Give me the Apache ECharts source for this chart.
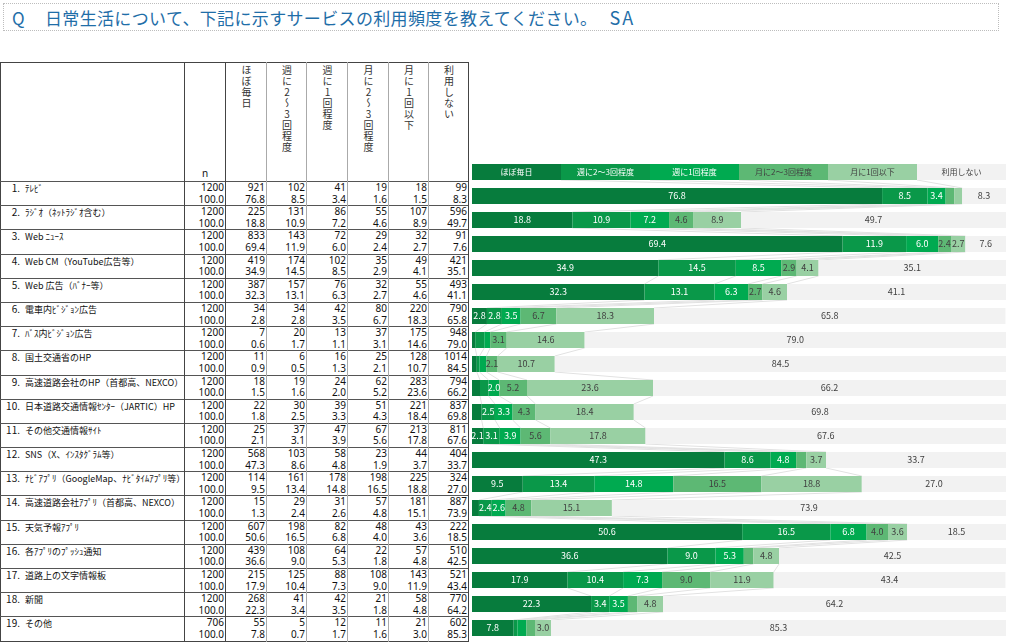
<!DOCTYPE html>
<html lang="ja">
<head>
<meta charset="UTF-8">
<title>サービスの利用頻度</title>
<script src="https://cdn.jsdelivr.net/npm/echarts@6/dist/echarts.min.js"></script>
<style>
    body { margin: 0; background: #fff; width: 1024px; height: 642px; overflow: hidden; position: relative;
           font-family: "Noto Sans", "Noto Sans CJK JP", sans-serif; }
    .title { position: absolute; left: 3px; top: 3px; width: 996px; height: 28px; box-sizing: border-box;
             border: 1px dotted #bdbdbd; color: #1f6ea8; font-family: "Noto Sans CJK JP"; font-size: 17px;
             line-height: 26px; padding-left: 8px; letter-spacing: 0.35px; }
    .title .q { margin-right: 20px; }
    .title .sa { margin-left: 12px; letter-spacing: 2px; font-size: 18px; }
    #tbl { position: absolute; left: 0; top: 62px; width: 469px; border-collapse: collapse; table-layout: fixed;
           border: 1px solid #444; font-size: 10px; color: #111; }
    #tbl td, #tbl th { padding: 0; overflow: hidden; white-space: nowrap; }
    #tbl th { height: 117px; font-weight: normal; vertical-align: top; border-right: 1px solid #aaa; }
    #tbl th .v { writing-mode: vertical-rl; text-orientation: upright; font-family: "Noto Sans CJK JP";
                 font-size: 10px; line-height: 12px; margin: 2px auto 0; letter-spacing: 1px; color: #333; }
    #tbl th.nh { vertical-align: bottom; text-align: center; padding-bottom: 1px; border-right: 1px solid #444; }
    #tbl th.lh { border-right: 1px solid #444; }
    #tbl tr.r td { height: 23.2px; border-top: 1px solid #555; vertical-align: top; line-height: 11.6px; }
    #tbl td.lab { border-right: 1px solid #444; font-family: "Noto Sans CJK JP"; font-size: 9px; padding-left: 3px; }
    #tbl td.lab .no { display: inline-block; width: 16px; text-align: right; margin-right: 5px; font-size: 10px; }
    #tbl td.num { text-align: right; padding-right: 1px; border-right: 1px solid #aaa; }
    #tbl td.nn { border-right: 1px solid #444; }
    #chart { position: absolute; left: 470px; top: 150px; width: 554px; height: 500px; }
</style>
</head>
<body>
<div class="title"><span class="q">Q</span>日常生活について、下記に示すサービスの利用頻度を教えてください。<span class="sa">SA</span></div>
<table id="tbl"></table>
<div id="chart"></div>

<script>
// items and answer categories
var itemLabels = ['ﾃﾚﾋﾞ', 'ﾗｼﾞｵ（ﾈｯﾄﾗｼﾞｵ含む）', 'Web ﾆｭｰｽ', 'Web CM（YouTube広告等）', 'Web 広告（ﾊﾞﾅｰ等）',
    '電車内ﾋﾞｼﾞｮﾝ広告', 'ﾊﾞｽ内ﾋﾞｼﾞｮﾝ広告', '国土交通省のHP', '高速道路会社のHP（首都高、NEXCO）',
    '日本道路交通情報ｾﾝﾀｰ（JARTIC）HP', 'その他交通情報ｻｲﾄ', 'SNS（X、ｲﾝｽﾀｸﾞﾗﾑ等）',
    'ﾅﾋﾞｱﾌﾟﾘ（GoogleMap、ﾅﾋﾞﾀｲﾑｱﾌﾟﾘ等）', '高速道路会社ｱﾌﾟﾘ（首都高、NEXCO）', '天気予報ｱﾌﾟﾘ',
    '各ｱﾌﾟﾘのﾌﾟｯｼｭ通知', '道路上の文字情報板', '新聞', 'その他'];
var freqNames = ['ほぼ毎日', '週に2～3回程度', '週に1回程度', '月に2～3回程度', '月に1回以下', '利用しない'];

// n
var nTotal = [1200, 1200, 1200, 1200, 1200, 1200, 1200, 1200, 1200, 1200, 1200, 1200, 1200, 1200, 1200, 1200, 1200, 1200, 706];

// counts
var cntDaily = [921, 225, 833, 419, 387, 34, 7, 11, 18, 22, 25, 568, 114, 15, 607, 439, 215, 268, 55];
var cntW23   = [102, 131, 143, 174, 157, 34, 20, 6, 19, 30, 37, 103, 161, 29, 198, 108, 125, 41, 5];
var cntW1    = [41, 86, 72, 102, 76, 42, 13, 16, 24, 39, 47, 58, 178, 31, 82, 64, 88, 42, 12];
var cntM23   = [19, 55, 29, 35, 32, 80, 37, 25, 62, 51, 67, 23, 198, 57, 48, 22, 108, 21, 11];
var cntM1    = [18, 107, 32, 49, 55, 220, 175, 128, 283, 221, 213, 44, 225, 181, 43, 57, 143, 58, 21];
var cntNone  = [99, 596, 91, 421, 493, 790, 948, 1014, 794, 837, 811, 404, 324, 887, 222, 510, 521, 770, 602];

// percentages
var pctDaily = [76.8, 18.8, 69.4, 34.9, 32.3, 2.8, 0.6, 0.9, 1.5, 1.8, 2.1, 47.3, 9.5, 1.3, 50.6, 36.6, 17.9, 22.3, 7.8];
var pctW23   = [8.5, 10.9, 11.9, 14.5, 13.1, 2.8, 1.7, 0.5, 1.6, 2.5, 3.1, 8.6, 13.4, 2.4, 16.5, 9.0, 10.4, 3.4, 0.7];
var pctW1    = [3.4, 7.2, 6.0, 8.5, 6.3, 3.5, 1.1, 1.3, 2.0, 3.3, 3.9, 4.8, 14.8, 2.6, 6.8, 5.3, 7.3, 3.5, 1.7];
var pctM23   = [1.6, 4.6, 2.4, 2.9, 2.7, 6.7, 3.1, 2.1, 5.2, 4.3, 5.6, 1.9, 16.5, 4.8, 4.0, 1.8, 9.0, 1.8, 1.6];
var pctM1    = [1.5, 8.9, 2.7, 4.1, 4.6, 18.3, 14.6, 10.7, 23.6, 18.4, 17.8, 3.7, 18.8, 15.1, 3.6, 4.8, 11.9, 4.8, 3.0];
var pctNone  = [8.3, 49.7, 7.6, 35.1, 41.1, 65.8, 79.0, 84.5, 66.2, 69.8, 67.6, 33.7, 27.0, 73.9, 18.5, 42.5, 43.4, 64.2, 85.3];

var colors = ['#077c3d', '#0a9849', '#00aa50', '#5db874', '#99d0a3', '#f2f2f2'];

// ---- table ----
var cntSeries = [cntDaily, cntW23, cntW1, cntM23, cntM1, cntNone];
var pctSeries = [pctDaily, pctW23, pctW1, pctM23, pctM1, pctNone];
var widths = [184, 41, 41, 40, 41, 41, 40, 40];

var html = '<colgroup>' + widths.map(function (w) { return '<col style="width:' + w + 'px">'; }).join('') + '</colgroup>';
html += '<tr><th class="lh"></th><th class="nh">n</th>';
freqNames.forEach(function (f, k) {
    html += '<th' + (k === 5 ? ' style="border-right:1px solid #444"' : '') + '><div class="v">' + f + '</div></th>';
});
html += '</tr>';
itemLabels.forEach(function (lab, i) {
    html += '<tr class="r"><td class="lab"><span class="no">' + (i + 1) + '.</span>' + lab + '</td>';
    html += '<td class="num nn">' + nTotal[i] + '<br>100.0</td>';
    for (var k = 0; k < 6; k++) {
        html += '<td class="num"' + (k === 5 ? ' style="border-right:1px solid #444"' : '') + '>' +
            cntSeries[k][i] + '<br>' + pctSeries[k][i].toFixed(1) + '</td>';
    }
    html += '</tr>';
});
document.getElementById('tbl').innerHTML = html;

// ---- chart ----
var myChart = echarts.init(document.getElementById('chart'));
var rowCats = ['凡例'].concat(itemLabels);
var legendShare = 100 / freqNames.length;

// cumulative boundaries per row (row 0 = legend bar)
var cum = rowCats.map(function (c, r) {
    var s = 0, out = [];
    for (var k = 0; k < 6; k++) {
        s += r === 0 ? legendShare : pctSeries[k][r - 1];
        out.push(s);
    }
    return out;
});

var series = freqNames.map(function (name, k) {
    return {
        name: name,
        type: 'bar',
        stack: 'all',
        barWidth: 16,
        silent: true,
        itemStyle: { color: colors[k] },
        label: {
            show: true,
            position: 'inside',
            color: k < 3 ? '#ffffff' : '#404040',
            fontSize: 9,
            fontFamily: 'Noto Sans CJK JP',
            formatter: function (p) {
                if (p.dataIndex === 0) return name;
                return p.value >= 2 ? p.value.toFixed(1) : '';
            }
        },
        data: [{ value: legendShare, label: { fontSize: 8 } }].concat(pctSeries[k])
    };
});

// faint series lines between consecutive bars
series.push({
    type: 'custom',
    silent: true,
    z: 1,
    encode: { x: 0, y: 1 },
    data: rowCats.slice(0, -1).map(function (c, i) { return [0, i]; }),
    renderItem: function (params, api) {
        var i = params.dataIndex, kids = [];
        for (var k = 0; k < 5; k++) {
            var a = api.coord([cum[i][k], i]);
            var b = api.coord([cum[i + 1][k], i + 1]);
            kids.push({
                type: 'line',
                shape: { x1: a[0], y1: a[1] + 8, x2: b[0], y2: b[1] - 8 },
                style: { stroke: '#e2e2e2', lineWidth: 1 }
            });
        }
        return { type: 'group', children: kids };
    }
});

myChart.setOption({
    animation: false,
    grid: { left: 2, right: 18, top: 10, bottom: 10 },
    xAxis: { type: 'value', min: 0, max: 100, show: false },
    yAxis: { type: 'category', data: rowCats, inverse: true, show: false },
    series: series
});
</script>
</body>
</html>
